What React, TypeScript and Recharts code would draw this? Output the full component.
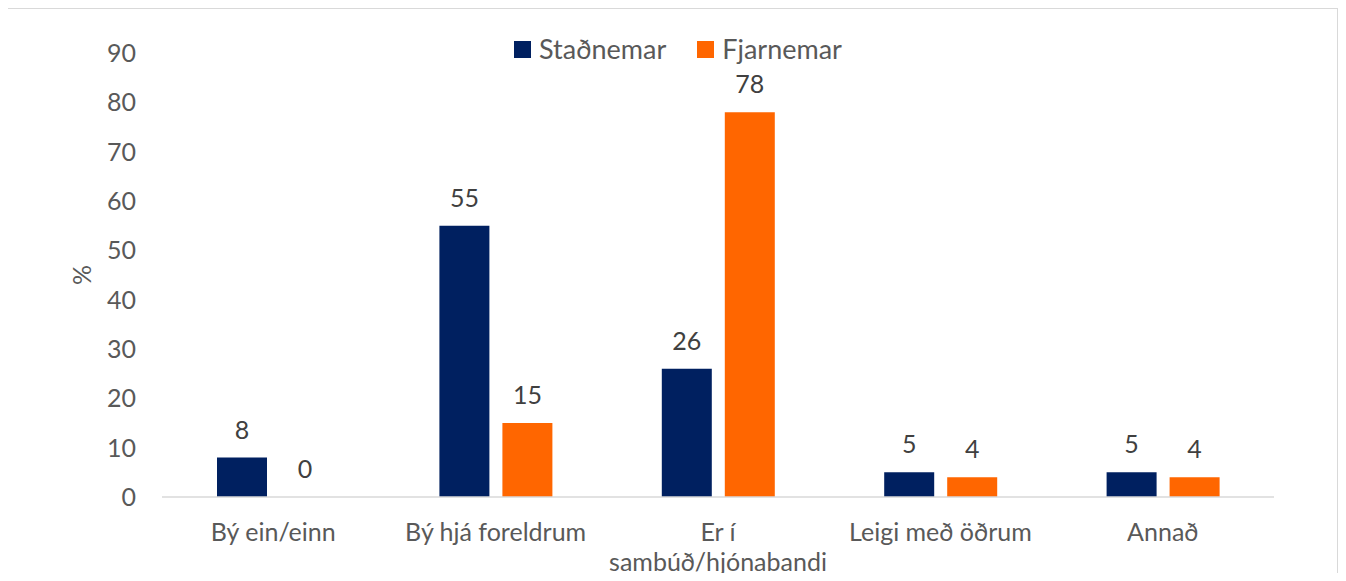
import { BarChart, Bar, XAxis, YAxis, Legend, LabelList } from "recharts";

const categories = ["Bý ein/einn", "Bý hjá foreldrum", "Er í\nsambúð/hjónabandi", "Leigi með öðrum", "Annað"];
const seriesNames = ["Staðnemar", "Fjarnemar"];
const stadnemar = [8, 55, 26, 5, 5];
const fjarnemar = [0, 15, 78, 4, 4];
const yTicks = [0, 10, 20, 30, 40, 50, 60, 70, 80, 90];

const NAVY = "#002060";
const ORANGE = "#FF6600";
const FONT = "Lato, 'Open Sans', sans-serif";

const data = categories.map((name, i) => ({
  name,
  Staðnemar: stadnemar[i],
  Fjarnemar: fjarnemar[i],
}));

function CategoryTick(props: any) {
  const { x, y, payload } = props;
  const lines = String(payload.value).split("\n");
  return (
    <text x={x} y={y} textAnchor="middle" fill="#595959" style={{ fontSize: 25, fontFamily: FONT }}>
      {lines.map((line, i) => (
        <tspan key={i} x={x} dy={i === 0 ? 18 : 30}>
          {line}
        </tspan>
      ))}
    </text>
  );
}

function ValueLabel(props: any) {
  const { x, y, width, value } = props;
  return (
    <text
      x={x + width / 2}
      y={y - 19}
      textAnchor="middle"
      fill="#404040"
      style={{ fontSize: 25, fontFamily: FONT }}
    >
      {value}
    </text>
  );
}

function LegendContent(props: any) {
  const payload = [...(props.payload || [])].sort(
    (a: any, b: any) => seriesNames.indexOf(a.value) - seriesNames.indexOf(b.value)
  );
  return (
    <div style={{ display: "flex", justifyContent: "center", alignItems: "center", gap: 31, paddingLeft: 10 }}>
      {payload.map((entry: any) => (
        <div key={entry.value} style={{ display: "flex", alignItems: "center", gap: 8 }}>
          <span style={{ width: 17, height: 17, background: entry.color, display: "inline-block" }} />
          <span style={{ fontSize: 27, fontFamily: FONT, color: "#595959", lineHeight: "32px" }}>{entry.value}</span>
        </div>
      ))}
    </div>
  );
}

export default function App() {
  return (
    <div style={{ position: "relative", width: 1346, height: 581, margin: -8, overflow: "hidden", background: "#fff" }}>
      <BarChart
        width={1346}
        height={581}
        data={data}
        margin={{ top: 53, right: 72, bottom: 0, left: 0 }}
        barSize={50}
        barGap={13}
      >
        <XAxis
          dataKey="name"
          height={84}
          stroke="#d9d9d9"
          strokeWidth={1.5}
          tickLine={false}
          tickSize={0}
          tickMargin={26}
          tick={<CategoryTick />}
          interval={0}
        />
        <YAxis
          width={162}
          domain={[0, 90]}
          ticks={yTicks}
          axisLine={false}
          tickLine={false}
          tickSize={0}
          tickMargin={26}
          tick={{ fill: "#595959", fontSize: 25, fontFamily: FONT }}
          label={{
            content: (p: any) => {
              const vb = p.viewBox;
              const cx = vb.x + vb.width / 2;
              const cy = vb.y + vb.height / 2;
              return (
                <text
                  x={cx}
                  y={cy}
                  transform={`rotate(-90 ${cx} ${cy})`}
                  textAnchor="middle"
                  dominantBaseline="central"
                  fill="#595959"
                  style={{ fontSize: 25, fontFamily: FONT }}
                >
                  %
                </text>
              );
            },
          }}
        />
        <Legend
          layout="horizontal"
          verticalAlign="middle"
          align="center"
          content={<LegendContent />}
          wrapperStyle={{ top: 33, left: 0, width: 1346 }}
        />
        <Bar dataKey="Staðnemar" fill={NAVY} isAnimationActive={false} minPointSize={0.001}>
          <LabelList dataKey="Staðnemar" content={<ValueLabel />} />
        </Bar>
        <Bar dataKey="Fjarnemar" fill={ORANGE} isAnimationActive={false} minPointSize={0.001}>
          <LabelList dataKey="Fjarnemar" content={<ValueLabel />} />
        </Bar>
      </BarChart>
      <div
        style={{
          position: "absolute",
          left: 6,
          top: 7,
          width: 1333,
          height: 620,
          border: "2px solid #d9d9d9",
          boxSizing: "border-box",
          pointerEvents: "none",
        }}
      />
    </div>
  );
}
